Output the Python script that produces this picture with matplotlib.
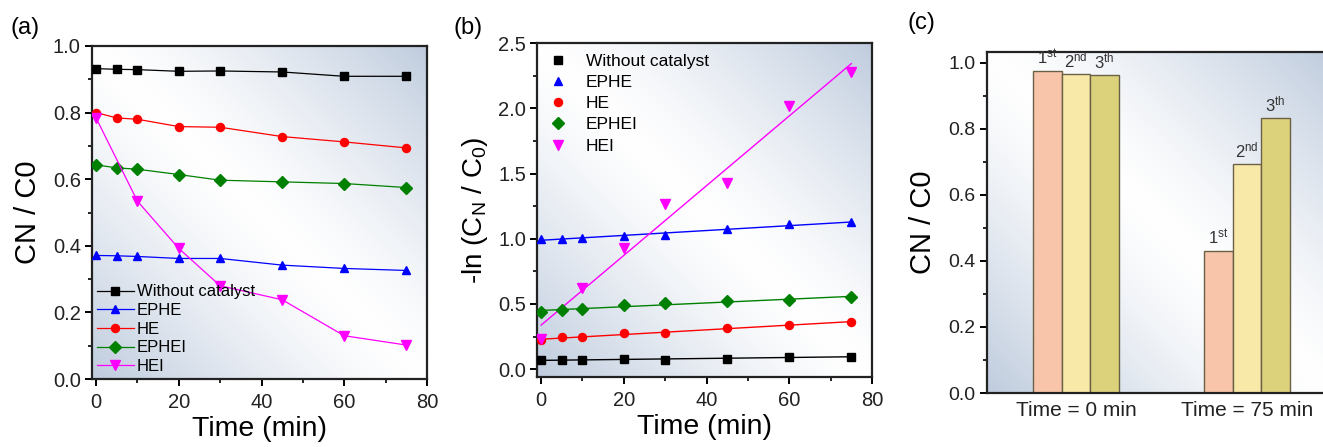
import numpy as np
import matplotlib
matplotlib.use("Agg")
import matplotlib.pyplot as plt
from matplotlib.ticker import MultipleLocator

plt.rcParams["font.family"] = ["Liberation Sans", "DejaVu Sans"]
plt.rcParams["mathtext.fontset"] = "custom"
plt.rcParams["mathtext.rm"] = "Liberation Sans"

# ---- data ----
time = [0, 5, 10, 20, 30, 45, 60, 75]
time_hei = [0, 10, 20, 30, 45, 60, 75]
series_names = ["Without catalyst", "EPHE", "HE", "EPHEI", "HEI"]
series_colors = ["#000000", "#0000ff", "#ff0000", "#008000", "#ff00ff"]
series_markers = ["s", "^", "o", "D", "v"]

# (a) C_N / C_0
ratio_without = [0.932, 0.930, 0.929, 0.924, 0.925, 0.922, 0.909, 0.909]
ratio_ephe = [0.371, 0.370, 0.368, 0.362, 0.362, 0.342, 0.332, 0.326]
ratio_he = [0.800, 0.784, 0.780, 0.758, 0.756, 0.728, 0.712, 0.694]
ratio_ephei = [0.643, 0.634, 0.630, 0.614, 0.597, 0.592, 0.587, 0.575]
ratio_hei = [0.784, 0.534, 0.392, 0.280, 0.238, 0.130, 0.102]

# (b) -ln(C_N / C_0)
ln_without = [0.069, 0.069, 0.072, 0.077, 0.074, 0.079, 0.095, 0.095]
ln_ephe = [0.998, 0.998, 1.006, 1.023, 1.026, 1.077, 1.110, 1.126]
ln_he = [0.223, 0.243, 0.246, 0.274, 0.279, 0.312, 0.338, 0.363]
ln_ephei = [0.440, 0.453, 0.461, 0.489, 0.509, 0.519, 0.530, 0.553]
ln_hei = [0.235, 0.622, 0.929, 1.267, 1.428, 2.019, 2.280]

# (c) recycling
cycle_groups = ["Time = 0 min", "Time = 75 min"]
cycle_labels = [r"1$\mathregular{^{st}}$", r"2$\mathregular{^{nd}}$", r"3$\mathregular{^{th}}$"]
cycle_1st = [0.975, 0.430]
cycle_2nd = [0.965, 0.692]
cycle_3rd = [0.962, 0.832]
cycle_colors = ["#f8c5ab", "#f9e9a8", "#ddd27c"]


def add_background(ax):
    # soft blue/white diagonal gradient like the original figure
    n = 200
    xx, yy = np.meshgrid(np.linspace(0, 1, n), np.linspace(0, 1, n))
    t = np.clip(np.abs(xx + yy - 1.0), 0, 1) ** 1.3
    blue = np.array([0.75, 0.80, 0.87])
    white = np.array([1.0, 1.0, 1.0])
    img = white[None, None, :] * (1 - t[..., None]) + blue[None, None, :] * t[..., None]
    ax.imshow(img, extent=[0, 1, 0, 1], origin="lower", transform=ax.transAxes,
              aspect="auto", zorder=0, interpolation="bilinear")


def style_axes(ax):
    for s in ax.spines.values():
        s.set_linewidth(1.6)
        s.set_color("#222222")
    ax.tick_params(which="major", direction="out", length=5, width=1.4,
                   labelsize=14.5, labelcolor="#222222", top=False, right=False)
    ax.tick_params(which="minor", direction="out", length=3, width=1.2,
                   top=False, right=False)
    ax.tick_params(axis="y", pad=3)
    ax.tick_params(axis="x", pad=5)


fig = plt.figure(figsize=(13.23, 4.47), dpi=100)

# ---- (a) ----
ax1 = fig.add_axes([0.0695, 0.1521, 0.2532, 0.745])
add_background(ax1)
ratios = [ratio_without, ratio_ephe, ratio_he, ratio_ephei]
for name, vals, c, m in zip(series_names[:4], ratios, series_colors[:4], series_markers[:4]):
    ax1.plot(time, vals, color=c, marker=m, markersize=5.8, linewidth=0.9,
             label=name, zorder=3)
ax1.plot(time_hei, ratio_hei, color=series_colors[4], marker=series_markers[4],
         markersize=6.5, linewidth=0.9, label=series_names[4], zorder=3)
ax1.set_xlim(-1, 80)
ax1.set_ylim(0, 1.0)
ax1.xaxis.set_major_locator(MultipleLocator(20))
ax1.xaxis.set_minor_locator(MultipleLocator(10))
ax1.yaxis.set_major_locator(MultipleLocator(0.2))
ax1.yaxis.set_minor_locator(MultipleLocator(0.1))
ax1.set_xlabel("Time (min)", fontsize=20.5, labelpad=3)
ax1.set_ylabel("CN / C0", fontsize=21, labelpad=8)
style_axes(ax1)
ax1.legend(loc="lower left", frameon=False, fontsize=12, handlelength=2.2,
           handletextpad=0.2, labelspacing=0.22, borderaxespad=0.1,
           borderpad=0.2)
fig.text(0.008, 0.925, "(a)", fontsize=17)

# ---- (b) ----
ax2 = fig.add_axes([0.4059, 0.1566, 0.2532, 0.747])
add_background(ax2)
lns = [ln_without, ln_ephe, ln_he, ln_ephei]
for name, vals, c, m in zip(series_names[:4], lns, series_colors[:4], series_markers[:4]):
    ax2.plot(time, vals, linestyle="none", color=c, marker=m, markersize=5.8,
             label=name, zorder=3)
    k, b = np.polyfit(time, vals, 1)
    ax2.plot([time[0], time[-1]], [b, k * time[-1] + b], color=c, linewidth=1.0, zorder=2)
ax2.plot(time_hei, ln_hei, linestyle="none", color=series_colors[4],
         marker=series_markers[4], markersize=6.5, label=series_names[4], zorder=3)
k, b = np.polyfit(time_hei, ln_hei, 1)
ax2.plot([time_hei[0], time_hei[-1]], [b, k * time_hei[-1] + b],
         color=series_colors[4], linewidth=1.0, zorder=2)
ax2.set_xlim(-1, 80)
ax2.set_ylim(-0.06, 2.5)
ax2.xaxis.set_major_locator(MultipleLocator(20))
ax2.xaxis.set_minor_locator(MultipleLocator(10))
ax2.yaxis.set_major_locator(MultipleLocator(0.5))
ax2.yaxis.set_minor_locator(MultipleLocator(0.25))
ax2.set_xlabel("Time (min)", fontsize=20.5, labelpad=3)
ax2.set_ylabel(r"-ln (C$\mathregular{_N}$ / C$\mathregular{_0}$)", fontsize=20, labelpad=6)
style_axes(ax2)
ax2.legend(loc="upper left", frameon=False, fontsize=12.5, handlelength=1.2,
           handletextpad=1.0, labelspacing=0.35, borderaxespad=0.4,
           borderpad=0.2)
fig.text(0.343, 0.925, "(b)", fontsize=17)

# ---- (c) ----
ax3 = fig.add_axes([0.746, 0.1208, 0.26, 0.763])
add_background(ax3)
x = np.arange(len(cycle_groups))
w = 1 / 6
for i, (vals, c) in enumerate(zip([cycle_1st, cycle_2nd, cycle_3rd], cycle_colors)):
    pos = x + (i - 1) * w
    ax3.bar(pos, vals, width=w, color=c, edgecolor="#6a6045", linewidth=1.0, zorder=2)
    for p, v in zip(pos, vals):
        ax3.text(p, v + 0.012, cycle_labels[i], ha="center", va="bottom",
                 fontsize=12, color="#333333", zorder=3)
ax3.set_xlim(-0.52, 1.49)
ax3.set_ylim(0, 1.032)
ax3.set_xticks(x)
ax3.set_xticklabels(cycle_groups)
ax3.yaxis.set_major_locator(MultipleLocator(0.2))
ax3.yaxis.set_minor_locator(MultipleLocator(0.1))
ax3.set_ylabel("CN / C0", fontsize=21, labelpad=8)
style_axes(ax3)
ax3.tick_params(axis="x", length=0, labelsize=15, pad=6)
ax3.tick_params(axis="y", labelsize=14)
fig.text(0.686, 0.935, "(c)", fontsize=17)

fig.savefig("out.png", dpi=100)
